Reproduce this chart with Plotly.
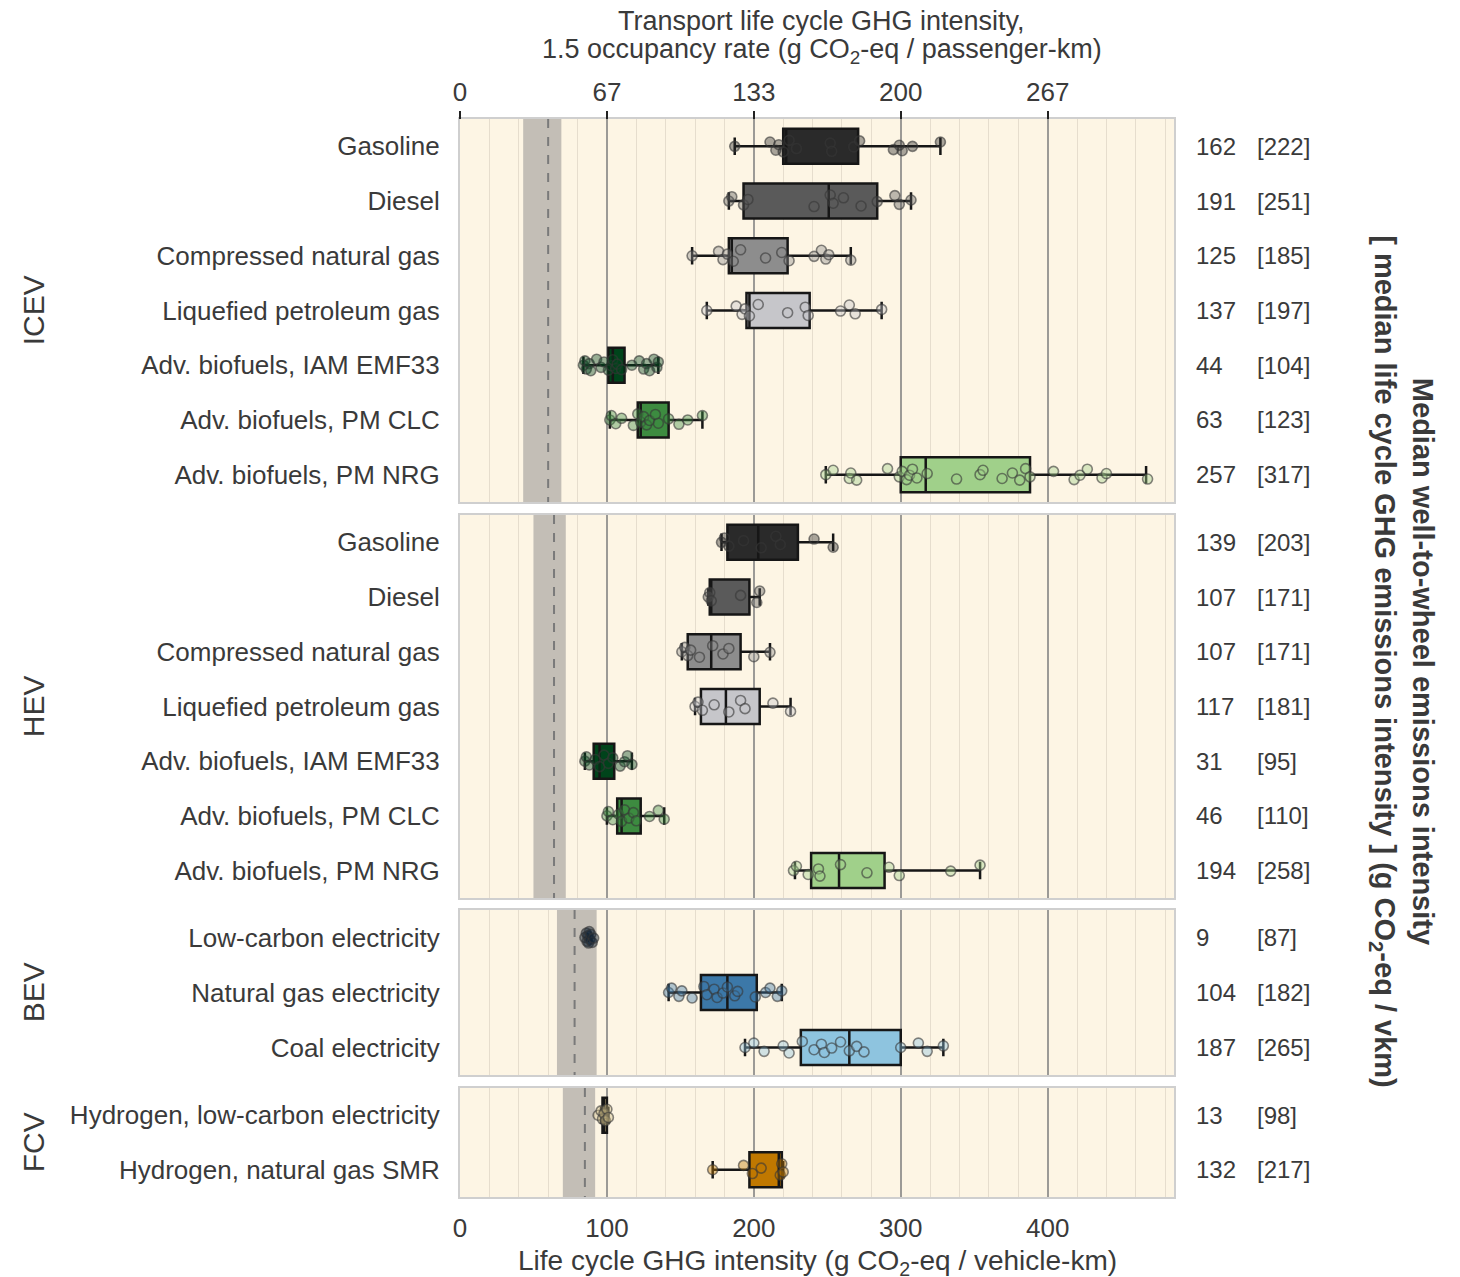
import plotly.graph_objects as go

# ---------------- data ----------------
groups = ["ICEV", "HEV", "BEV", "FCV"]

icev_labels = ["Gasoline", "Diesel", "Compressed natural gas", "Liquefied petroleum gas",
               "Adv. biofuels, IAM EMF33", "Adv. biofuels, PM CLC", "Adv. biofuels, PM NRG"]
hev_labels = icev_labels
bev_labels = ["Low-carbon electricity", "Natural gas electricity", "Coal electricity"]
fcv_labels = ["Hydrogen, low-carbon electricity", "Hydrogen, natural gas SMR"]

# box statistics (g CO2-eq / vehicle-km, life cycle)
icev_low = [187, 183, 158, 168, 84, 102, 249]
icev_q1 = [220, 193, 183, 195, 101, 121, 300]
icev_med = [222, 251, 185, 197, 104, 123, 317]
icev_q3 = [271, 284, 223, 238, 112, 142, 388]
icev_high = [327, 307, 266, 287, 135, 165, 467]

hev_low = [178, 169, 151, 160, 85, 100, 228]
hev_q1 = [182, 170, 155, 164, 91, 107, 239]
hev_med = [203, 171, 171, 181, 95, 110, 258]
hev_q3 = [230, 197, 191, 204, 105, 123, 289]
hev_high = [254, 204, 211, 225, 117, 139, 354]

bev_low = [85, 142, 194]
bev_q1 = [86, 164, 232]
bev_med = [87, 182, 265]
bev_q3 = [89, 202, 300]
bev_high = [91, 219, 329]

fcv_low = [96, 172]
fcv_q1 = [97, 197]
fcv_med = [98, 217]
fcv_q3 = [100, 219]
fcv_high = [101, 220]

# individual estimates (stripplot points)
icev_points = [
    [187, 211, 215, 217, 220, 224, 229, 252, 253, 268, 272, 295, 299, 301, 308, 327],
    [183, 185, 193, 196, 241, 252, 254, 261, 273, 284, 296, 299, 307],
    [158, 176, 179, 182, 186, 191, 208, 219, 224, 241, 246, 249, 251, 266],
    [168, 188, 192, 194, 197, 203, 223, 235, 237, 259, 265, 269, 287],
    [84, 85, 86, 88, 89, 93, 96, 98, 101, 103, 104, 106, 107, 110, 117, 122, 125, 127, 129, 132, 134, 135],
    [102, 103, 106, 110, 118, 121, 123, 125, 127, 129, 133, 135, 142, 149, 155, 165],
    [249, 254, 265, 266, 270, 291, 299, 301, 304, 306, 308, 311, 318, 338, 354, 356, 369, 376,
     381, 385, 388, 404, 418, 422, 427, 437, 440, 468],
]
hev_points = [
    [178, 180, 183, 193, 205, 215, 218, 241, 254],
    [169, 170, 171, 191, 202, 204],
    [151, 153, 155, 157, 163, 172, 179, 183, 200, 211],
    [160, 162, 165, 173, 183, 191, 194, 213, 225],
    [85, 86, 88, 92, 95, 98, 101, 104, 109, 112, 114, 117],
    [100, 101, 104, 108, 110, 112, 115, 118, 120, 129, 135, 139],
    [227, 229, 237, 244, 245, 259, 277, 292, 299, 334, 354],
]
bev_points = [
    [85, 86, 86.5, 87, 87.5, 88, 88.5, 89, 90, 91],
    [142, 144, 149, 151, 158, 166, 168, 173, 175, 179, 182, 187, 189, 201, 208, 211, 216, 219],
    [194, 200, 207, 220, 224, 233, 241, 246, 248, 253, 259, 265, 270, 275, 300, 312, 318, 329],
]
fcv_points = [
    [94, 96, 97, 98, 99, 100, 101],
    [172, 193, 199, 205, 218, 219, 220],
]

# right-hand medians: well-to-wheel [life cycle]
icev_wtw = [162, 191, 125, 137, 44, 63, 257]
icev_lc = [222, 251, 185, 197, 104, 123, 317]
hev_wtw = [139, 107, 107, 117, 31, 46, 194]
hev_lc = [203, 171, 171, 181, 95, 110, 258]
bev_wtw = [9, 104, 187]
bev_lc = [87, 182, 265]
fcv_wtw = [13, 132]
fcv_lc = [98, 217]

# vehicle-cycle (production) emission band per group
band_low = [43, 50, 66, 70]
band_high = [69, 72, 93, 92]
band_median = [60, 64, 78, 85]

bottom_ticks = [0, 100, 200, 300, 400]
top_tick_text = ["0", "67", "133", "200", "267"]

# ---------------- styles ----------------
fuel_colors = ["#2a2a2a", "#5a5a5a", "#8d8d8d", "#c6c6ca", "#00441b", "#3d8b40", "#a0d08a"]
bev_colors = ["#0c2035", "#3c78a8", "#8ec4df"]
fcv_colors = ["#cdbb85", "#c07800"]

TEXT = "#3a3a3a"
FONT = "Liberation Sans, Arial, sans-serif"
BG = "#fdf5e4"
JIT = [0.0, -0.08, 0.07, -0.03, 0.1, -0.11, 0.04, -0.06, 0.09, 0.01, -0.1, 0.06, -0.02, 0.08]

domains = [[0.6447, 1.0], [0.2774, 0.6327], [0.1132, 0.2662], [0.0, 0.1011]]

panels = [
    (icev_labels, icev_low, icev_q1, icev_med, icev_q3, icev_high, icev_points, fuel_colors, icev_wtw, icev_lc),
    (hev_labels, hev_low, hev_q1, hev_med, hev_q3, hev_high, hev_points, fuel_colors, hev_wtw, hev_lc),
    (bev_labels, bev_low, bev_q1, bev_med, bev_q3, bev_high, bev_points, bev_colors, bev_wtw, bev_lc),
    (fcv_labels, fcv_low, fcv_q1, fcv_med, fcv_q3, fcv_high, fcv_points, fcv_colors, fcv_wtw, fcv_lc),
]


def rgba(hex_color, a):
    h = hex_color.lstrip("#")
    r, g, b = int(h[0:2], 16), int(h[2:4], 16), int(h[4:6], 16)
    return f"rgba({r},{g},{b},{a})"


fig = go.Figure()
annotations = []
XMAX = 486

for p, (labels, lo, q1, med, q3, hi, pts, cols, wtw, lc) in enumerate(panels):
    sfx = "" if p == 0 else str(p + 1)
    xa, ya = "x" + sfx, "y" + sfx
    n = len(labels)
    # production band and its median (drawn first, beneath the boxes)
    fig.add_trace(go.Scatter(
        x=[band_low[p], band_high[p], band_high[p], band_low[p], band_low[p]],
        y=[-0.5, -0.5, n - 0.5, n - 0.5, -0.5], mode="lines", fill="toself",
        fillcolor="#c3beb6", line=dict(width=0, color="#c3beb6"),
        xaxis=xa, yaxis=ya, showlegend=False, hoverinfo="skip"))
    fig.add_trace(go.Scatter(
        x=[band_median[p], band_median[p]], y=[-0.5, n - 0.5], mode="lines",
        line=dict(color="#7a7a7a", width=2, dash="dash"),
        xaxis=xa, yaxis=ya, showlegend=False, hoverinfo="skip"))
    for i in range(n):
        fig.add_trace(go.Box(
            y=[i], q1=[q1[i]], median=[med[i]], q3=[q3[i]],
            lowerfence=[lo[i]], upperfence=[hi[i]],
            orientation="h", fillcolor=cols[i],
            line=dict(color="#161616", width=2.5),
            width=0.64, whiskerwidth=0.5, boxpoints=False,
            xaxis=xa, yaxis=ya, showlegend=False, hoverinfo="skip",
        ))
        ys = [i + JIT[k % len(JIT)] for k in range(len(pts[i]))]
        fig.add_trace(go.Scatter(
            x=pts[i], y=ys, mode="markers", xaxis=xa, yaxis=ya,
            marker=dict(size=10, color=rgba(cols[i], 0.4),
                        line=dict(color="rgba(55,55,55,0.6)", width=1.6)),
            showlegend=False, hoverinfo="skip",
        ))
        annotations.append(dict(x=1.028, y=i, xref="paper", yref=ya, text=str(wtw[i]),
                                showarrow=False, xanchor="left", yanchor="middle",
                                font=dict(size=24, color=TEXT, family=FONT)))
        annotations.append(dict(x=1.114, y=i, xref="paper", yref=ya, text=f"[{lc[i]}]",
                                showarrow=False, xanchor="left", yanchor="middle",
                                font=dict(size=24, color=TEXT, family=FONT)))
    # group label
    annotations.append(dict(x=-0.597, y=0.5, xref="paper", yref=ya + " domain", text=groups[p],
                            textangle=-90, showarrow=False, xanchor="center", yanchor="middle",
                            font=dict(size=30, color=TEXT, family=FONT)))

    axis_common = dict(showline=True, mirror=True, linecolor="#cfcfcf", linewidth=2)
    xdef = dict(
        domain=[0, 1], range=[0, XMAX], anchor=ya, tickvals=bottom_ticks,
        showticklabels=(p == 3), ticks="outside" if p == 3 else "", ticklen=7,
        tickcolor="rgba(0,0,0,0)", tickfont=dict(size=26, color=TEXT, family=FONT),
        showgrid=True, gridcolor="#9c9a96", gridwidth=1.5,
        minor=dict(dtick=20, tick0=0, showgrid=True, gridcolor="#e6ddcd", gridwidth=1.2),
        zeroline=False, **axis_common,
    )
    if p > 0:
        xdef["matches"] = "x"
    fig.layout["xaxis" + sfx] = xdef
    fig.layout["yaxis" + sfx] = dict(
        domain=domains[p], range=[n - 0.5, -0.5], anchor=xa,
        tickvals=list(range(n)), ticktext=labels, ticks="outside", ticklen=13,
        tickcolor="rgba(0,0,0,0)", tickfont=dict(size=26, color=TEXT, family=FONT),
        showgrid=False, zeroline=False, **axis_common,
    )

# top (passenger-km) axis
fig.add_trace(go.Scatter(x=[0, XMAX], y=[0, 0], xaxis="x5", yaxis="y", mode="markers",
                         marker=dict(opacity=0), showlegend=False, hoverinfo="skip"))
fig.layout["xaxis5"] = dict(
    overlaying="x", side="top", anchor="free", position=1, range=[0, XMAX],
    tickvals=bottom_ticks, ticktext=top_tick_text, ticks="outside", ticklen=8, tickwidth=2,
    tickcolor="#222222", tickfont=dict(size=26, color=TEXT, family=FONT),
    showgrid=False, zeroline=False, showline=False,
)

annotations.append(dict(x=0.507, y=1.0905, xref="paper", yref="paper",
                        text="Transport life cycle GHG intensity,",
                        showarrow=False, xanchor="center", yanchor="middle",
                        font=dict(size=27, color=TEXT, family=FONT)))
annotations.append(dict(x=0.507, y=1.0635, xref="paper", yref="paper",
                        text="1.5 occupancy rate (g CO<sub>2</sub>-eq / passenger-km)",
                        showarrow=False, xanchor="center", yanchor="middle",
                        font=dict(size=27, color=TEXT, family=FONT)))
annotations.append(dict(x=0.5, y=-0.0605, xref="paper", yref="paper",
                        text="Life cycle GHG intensity (g CO<sub>2</sub>-eq / vehicle-km)",
                        showarrow=False, xanchor="center", yanchor="middle",
                        font=dict(size=28, color=TEXT, family=FONT)))
annotations.append(dict(x=1.319, y=0.4963, xref="paper", yref="paper",
                        text="<b>Median well-to-wheel emissions intensity</b><br>"
                             "<b>[ median life cycle GHG emissions intensity ] (g CO<sub>2</sub>-eq / vkm)</b>",
                        textangle=90, showarrow=False, xanchor="center", yanchor="middle",
                        font=dict(size=29, color=TEXT, family=FONT)))

fig.update_layout(
    width=1460, height=1277,
    margin=dict(l=452, r=294, t=111, b=88),
    paper_bgcolor="white", plot_bgcolor=BG,
    annotations=annotations,
    showlegend=False, boxmode="overlay",
    font=dict(family=FONT, color=TEXT),
)

fig.write_html("out.html")
